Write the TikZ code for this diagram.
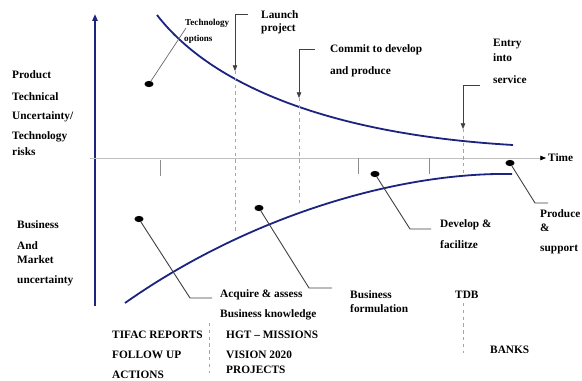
\documentclass[tikz,border=0pt]{standalone}
\usepackage{fontspec}
\setmainfont{Liberation Serif}
\usetikzlibrary{shapes.geometric}
\usetikzlibrary{arrows.meta}

\definecolor{curveblue}{RGB}{28,36,128}

\begin{document}
\begin{tikzpicture}[x=0.031cm, y=-0.031cm,
    txt/.style={anchor=west, inner sep=0pt, font=\bfseries\fontsize{10}{12}\selectfont},
    smalltxt/.style={anchor=west, inner sep=0pt, font=\bfseries\fontsize{8}{10}\selectfont},
    dot/.style={ellipse, fill=black, inner sep=0pt, minimum width=8pt, minimum height=5.5pt},
    callout/.style={draw=black!75, line width=0.8pt},
    pointer/.style={draw=black!75, line width=0.7pt, -{Triangle[length=5pt, width=4pt]}},
    guide/.style={draw=black!35, dashed, line width=0.5pt},
    bigcurve/.style={draw=curveblue, line width=1.6pt}
]
    \useasboundingbox (0,0) rectangle (582,381);

    % Axes
    % - vertical axis (uncertainty)
    \coordinate (ybottom) at (95,306);
    \coordinate (ytop) at (95,14);
    \draw [draw=curveblue, line width=1.6pt, -{Triangle[length=6pt, width=4.5pt]}] (ybottom) -- (ytop);
    % - horizontal axis (time)
    \coordinate (xleft) at (90,158);
    \coordinate (xright) at (546,158);
    \draw [draw=black!25, line width=0.6pt, -{Triangle[length=5pt, width=4pt, color=black]}] (xleft) -- (xright);
    \node at (548,158) [txt](time){Time};
    % -- the ticks
    \draw [draw=black!45, line width=0.6pt] (160,160) -- (160,176);
    \draw [draw=black!45, line width=0.6pt] (358,158) -- (358,174);
    \draw [draw=black!45, line width=0.6pt] (429,158) -- (429,174);

    % Curves
    % - technical uncertainty falls with time
    \coordinate (techstart) at (157,15);
    \coordinate (techstop) at (513,145);
    \draw [bigcurve] (techstart) .. controls (215,90) and (340,135) .. (techstop);
    % - business uncertainty
    \coordinate (bizstart) at (125,303);
    \coordinate (bizstop) at (512,174);
    \draw [bigcurve] (bizstart) .. controls (250,215) and (400,172) .. (bizstop);

    % Left side labels
    \node at (12,75) [txt](prod){Product};
    \node at (12,97) [txt](tech){Technical};
    \node at (12,117) [txt](uncert){Uncertainty/};
    \node at (12,137) [txt](techno){Technology};
    \node at (12,152) [txt](risks){risks};
    \node at (17,225) [txt](biz){Business};
    \node at (17,246) [txt](and){And};
    \node at (17,260) [txt](market){Market};
    \node at (17,281) [txt](muncert){uncertainty};

    % Milestones on top
    % - Launch project
    \coordinate (launchtop) at (248,14);
    \coordinate (launchbend) at (235,14);
    \coordinate (launchtip) at (235,71);
    \coordinate (launchfoot) at (235,233);
    \draw [pointer] (launchtop) -- (launchbend) -- (launchtip);
    \draw [guide] (launchtip) -- (launchfoot);
    \node at (261,15) [txt](launch){Launch};
    \node at (261,29) [txt](project){project};
    % - Commit to develop
    \coordinate (committop) at (315,49);
    \coordinate (commitbend) at (299,49);
    \coordinate (committip) at (299,98);
    \coordinate (commitfoot) at (299,203);
    \draw [pointer] (committop) -- (commitbend) -- (committip);
    \draw [guide] (committip) -- (commitfoot);
    \node at (330,50) [txt](commit){Commit to develop};
    \node at (330,72) [txt](produce){and produce};
    % - Entry into service
    \coordinate (entrytop) at (480,85);
    \coordinate (entrybend) at (463,85);
    \coordinate (entrytip) at (463,129);
    \coordinate (entryfoot) at (463,176);
    \draw [pointer] (entrytop) -- (entrybend) -- (entrytip);
    \draw [guide] (entrytip) -- (entryfoot);
    \node at (493,44) [txt](entry){Entry};
    \node at (493,58) [txt](into){into};
    \node at (493,80) [txt](service){service};

    % Dots with callouts
    % - Technology options
    \node at (149,84) [dot](techdot){};
    \coordinate (techend) at (186,28);
    \draw [callout, line width=0.6pt, draw=black!60] (techdot) -- (techend);
    \node at (185,23) [smalltxt](techopt){Technology};
    \node at (184,39) [smalltxt](options){options};
    % - Acquire & assess
    \node at (139,219) [dot](acqdot){};
    \coordinate (acqbend) at (190,298);
    \coordinate (acqend) at (212,298);
    \draw [callout] (acqdot) -- (acqbend) -- (acqend);
    \node at (220,295) [txt](acquire){Acquire \& assess};
    \node at (220,315) [txt](knowledge){Business knowledge};
    % - Business formulation
    \node at (259,208) [dot](bizdot){};
    \coordinate (bizbend) at (309,288);
    \coordinate (bizend) at (332,288);
    \draw [callout] (bizdot) -- (bizbend) -- (bizend);
    \node at (350,295) [txt](business){Business};
    \node at (350,309) [txt](formulation){formulation};
    % - Develop & facilitze
    \node at (375,174) [dot](devdot){};
    \coordinate (devbend) at (410,229);
    \coordinate (devend) at (431,229);
    \draw [callout] (devdot) -- (devbend) -- (devend);
    \node at (440,225) [txt](develop){Develop \&};
    \node at (440,245) [txt](facilitze){facilitze};
    % - Produce & support
    \node at (510,163) [dot](proddot){};
    \coordinate (prodbend) at (535,203);
    \coordinate (prodend) at (548,203);
    \draw [callout] (proddot) -- (prodbend) -- (prodend);
    \node at (540,214) [txt](producec){Produce};
    \node at (540,228) [txt](amp){\&};
    \node at (540,250) [txt](support){support};

    % Agencies at the bottom
    \node at (112,335) [txt](tifac){TIFAC REPORTS};
    \node at (112,355) [txt](follow){FOLLOW UP};
    \node at (112,375) [txt](actions){ACTIONS};
    \coordinate (septop) at (209,323);
    \coordinate (sepbottom) at (209,373);
    \draw [guide] (septop) -- (sepbottom);
    \node at (226,335) [txt](hgt){HGT -- MISSIONS};
    \node at (226,355) [txt](vision){VISION 2020};
    \node at (226,370) [txt](projects){PROJECTS};
    \node at (455,295) [txt](tdb){TDB};
    \coordinate (tdbtop) at (463,303);
    \coordinate (tdbbottom) at (463,353);
    \draw [guide] (tdbtop) -- (tdbbottom);
    \node at (490,350) [txt](banks){BANKS};

\end{tikzpicture}
\end{document}
